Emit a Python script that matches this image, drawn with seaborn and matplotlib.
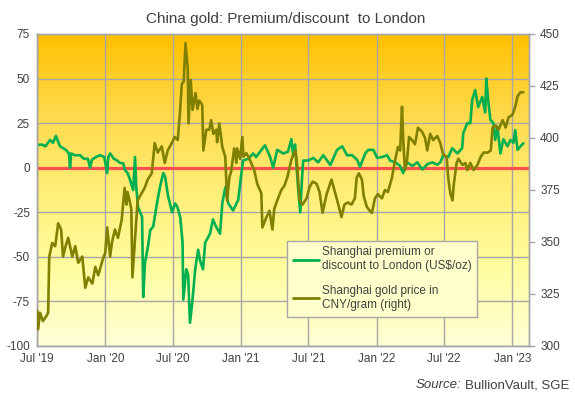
import numpy as np
import pandas as pd
import matplotlib
matplotlib.use("Agg")
import matplotlib.pyplot as plt
from matplotlib.colors import LinearSegmentedColormap
from matplotlib.lines import Line2D
import seaborn as sns

# ── data ──────────────────────────────────────────────────────────────────────

premium_dates = [
    "2019-07-01", "2019-07-14", "2019-07-24", "2019-08-05", "2019-08-13", "2019-08-21",
    "2019-09-01", "2019-09-09", "2019-09-17", "2019-09-25", "2019-09-28", "2019-10-01",
    "2019-10-11", "2019-10-25", "2019-11-04", "2019-11-15", "2019-11-21", "2019-11-26",
    "2019-12-07", "2019-12-18", "2019-12-29", "2020-01-06", "2020-01-09", "2020-01-14",
    "2020-01-24", "2020-02-02", "2020-02-10", "2020-02-18", "2020-02-23", "2020-03-01",
    "2020-03-08", "2020-03-16", "2020-03-21", "2020-03-24", "2020-03-29", "2020-04-09",
    "2020-04-12", "2020-04-17", "2020-04-25", "2020-05-01", "2020-05-09", "2020-05-19",
    "2020-05-27", "2020-06-05", "2020-06-10", "2020-06-18", "2020-06-29", "2020-07-07",
    "2020-07-13", "2020-07-21", "2020-07-27", "2020-07-29", "2020-08-06", "2020-08-11",
    "2020-08-16", "2020-08-22", "2020-08-30", "2020-09-07", "2020-09-12", "2020-09-20",
    "2020-09-26", "2020-10-09", "2020-10-17", "2020-10-25", "2020-11-05", "2020-11-11",
    "2020-11-19", "2020-11-27", "2020-12-10", "2020-12-24", "2020-12-29", "2021-01-06",
    "2021-01-20", "2021-02-02", "2021-02-10", "2021-02-21", "2021-03-06", "2021-03-20",
    "2021-03-28", "2021-04-08", "2021-04-16", "2021-04-24", "2021-05-07", "2021-05-16",
    "2021-05-21", "2021-05-26", "2021-06-03", "2021-06-09", "2021-06-14", "2021-06-17",
    "2021-06-30", "2021-07-14", "2021-07-27", "2021-08-10", "2021-08-29", "2021-09-16",
    "2021-09-30", "2021-10-13", "2021-10-27", "2021-11-09", "2021-11-17", "2021-12-01",
    "2021-12-09", "2021-12-23", "2022-01-02", "2022-01-16", "2022-01-29", "2022-02-06",
    "2022-02-20", "2022-03-05", "2022-03-13", "2022-03-24", "2022-04-07", "2022-04-20",
    "2022-05-04", "2022-05-17", "2022-05-31", "2022-06-13", "2022-06-21", "2022-06-29",
    "2022-07-13", "2022-07-23", "2022-08-06", "2022-08-19", "2022-08-22", "2022-09-02",
    "2022-09-10", "2022-09-15", "2022-09-23", "2022-10-01", "2022-10-12", "2022-10-20",
    "2022-10-23", "2022-10-28", "2022-11-03", "2022-11-11", "2022-11-16", "2022-11-22",
    "2022-11-30", "2022-12-08", "2022-12-19", "2022-12-27", "2023-01-04", "2023-01-09",
    "2023-01-15", "2023-01-23", "2023-01-31",
]
premium_usd = [
    12.7, 13, 12, 15.6, 14, 17.8,
    12, 11, 10, 8, 0, 8,
    7, 7, 5, 5, 0, 4.5,
    6, 7, 6, -3, 6, 8,
    5, 4, 2.6, 2.5, -1.3, -3,
    -7, -12.5, 6, -10, -22, -27.6,
    -72.5, -53, -44, -35, -33, -20,
    -11, -3, -5, -16, -25, -20,
    -22, -28, -42, -74, -57, -60,
    -87, -76, -57, -46, -52, -57,
    -42, -37, -29, -33, -37, -20,
    -11, -20, -24, -18, -9, 4,
    5, 8, 6, 9, 12.6, 6,
    0, 10, 9, 8, 9, 16,
    7, 13, -11, -25, -5, 4,
    4, 5.5, 3, 7, 1.5, 10,
    12, 7, 7, 4.4, 0.5, 8,
    10, 10, 5.5, 6, 7, 4,
    3, 1, -3, 3, 1, 3,
    -1, 2, 3, 1.7, 3, 7,
    6, 11, 8, 11, 19.5, 25,
    25, 38, 43.6, 34, 39.7, 31,
    50, 38, 27, 25, 15.6, 23,
    8, 16, 12, 15.6, 14, 21,
    10, 12, 13.7,
]

price_dates = [
    "2019-07-01", "2019-07-04", "2019-07-09", "2019-07-17", "2019-07-25", "2019-07-31",
    "2019-08-03", "2019-08-11", "2019-08-19", "2019-08-27", "2019-09-04", "2019-09-09",
    "2019-09-16", "2019-09-23", "2019-10-04", "2019-10-12", "2019-10-20", "2019-10-31",
    "2019-11-08", "2019-11-16", "2019-11-27", "2019-12-05", "2019-12-13", "2019-12-24",
    "2020-01-01", "2020-01-06", "2020-01-14", "2020-01-19", "2020-01-27", "2020-02-04",
    "2020-02-14", "2020-02-22", "2020-02-27", "2020-03-01", "2020-03-11", "2020-03-14",
    "2020-03-25", "2020-03-28", "2020-04-08", "2020-04-16", "2020-04-24", "2020-05-05",
    "2020-05-13", "2020-05-21", "2020-06-01", "2020-06-09", "2020-06-17", "2020-06-28",
    "2020-07-06", "2020-07-14", "2020-07-20", "2020-07-25", "2020-07-30", "2020-08-04",
    "2020-08-10", "2020-08-12", "2020-08-18", "2020-08-23", "2020-08-31", "2020-09-05",
    "2020-09-10", "2020-09-18", "2020-09-21", "2020-09-29", "2020-10-07", "2020-10-12",
    "2020-10-18", "2020-10-26", "2020-10-28", "2020-11-03", "2020-11-11", "2020-11-19",
    "2020-11-24", "2020-11-30", "2020-12-05", "2020-12-08", "2020-12-13", "2020-12-19",
    "2020-12-21", "2020-12-29", "2021-01-04", "2021-01-07", "2021-01-15", "2021-01-23",
    "2021-02-05", "2021-02-13", "2021-02-24", "2021-02-27", "2021-03-10", "2021-03-18",
    "2021-03-26", "2021-03-31", "2021-04-08", "2021-04-19", "2021-04-27", "2021-05-05",
    "2021-05-16", "2021-05-19", "2021-05-27", "2021-06-01", "2021-06-07", "2021-06-15",
    "2021-06-26", "2021-07-04", "2021-07-12", "2021-07-23", "2021-07-31", "2021-08-08",
    "2021-08-19", "2021-09-01", "2021-09-15", "2021-09-28", "2021-10-06", "2021-10-15",
    "2021-10-25", "2021-11-03", "2021-11-08", "2021-11-14", "2021-11-22", "2021-11-27",
    "2021-12-05", "2021-12-13", "2021-12-19", "2021-12-27", "2022-01-04", "2022-01-15",
    "2022-01-23", "2022-01-31", "2022-02-11", "2022-02-19", "2022-02-27", "2022-03-05",
    "2022-03-10", "2022-03-13", "2022-03-18", "2022-03-24", "2022-03-29", "2022-04-06",
    "2022-04-14", "2022-04-22", "2022-05-03", "2022-05-11", "2022-05-17", "2022-05-25",
    "2022-06-02", "2022-06-13", "2022-06-21", "2022-06-29", "2022-07-08", "2022-07-13",
    "2022-07-18", "2022-07-24", "2022-07-27", "2022-08-04", "2022-08-09", "2022-08-20",
    "2022-08-28", "2022-09-02", "2022-09-10", "2022-09-19", "2022-09-29", "2022-10-08",
    "2022-10-16", "2022-10-27", "2022-11-04", "2022-11-09", "2022-11-17", "2022-11-25",
    "2022-12-06", "2022-12-14", "2022-12-22", "2023-01-01", "2023-01-09", "2023-01-15",
    "2023-01-23", "2023-01-31",
]
price_cny = [
    317, 308, 316, 312, 314, 316,
    343, 349.5, 348, 359, 356, 343,
    348, 352, 343, 348, 340, 343,
    328, 333, 330, 338, 334, 341,
    345, 357, 343, 350, 356, 352,
    360.6, 376, 368, 374, 366, 333,
    362, 370, 373.5, 376, 380, 383,
    397.6, 393, 396, 388, 394, 397.6,
    400.5, 399, 412, 426, 427, 445.7,
    433, 407, 428, 413.5, 421.6, 414,
    418, 416, 394, 404, 404, 408.6,
    402, 404, 398, 407, 395.7, 391,
    370, 381, 384, 388, 395, 388,
    395, 390, 400.5, 391, 392.7, 390,
    384.6, 378, 373.5, 357, 362, 365,
    356, 366, 370, 375, 377, 381,
    389.4, 391, 394, 386, 370, 368,
    371, 376.4, 379, 378, 374, 364,
    373, 380, 371, 362, 368, 369,
    368, 371, 381, 383, 380, 372,
    367, 365, 364, 371, 373, 371,
    375, 374, 381, 389, 395.7, 394,
    415, 400, 384.6, 390, 400.5, 399,
    397, 405, 403, 400, 394, 402,
    399, 401, 397.6, 392, 391, 380,
    373.5, 370, 377, 388, 390, 387,
    388, 384.6, 388, 384.6, 387, 391,
    393, 393, 394, 405, 406, 404,
    408.6, 405, 410, 411, 415, 420,
    422, 422,
]

tick_dates = ["2019-07-01", "2020-01-01", "2020-07-01", "2021-01-01",
              "2021-07-01", "2022-01-01", "2022-07-01", "2023-01-01"]
tick_labels = ["Jul '19", "Jan '20", "Jul '20", "Jan '21",
               "Jul '21", "Jan '22", "Jul '22", "Jan '23"]
left_ticks = [75, 50, 25, 0, -25, -50, -75, -100]
right_ticks = [450, 425, 400, 375, 350, 325, 300]

premium = pd.DataFrame({"date": pd.to_datetime(premium_dates), "value": premium_usd})
price = pd.DataFrame({"date": pd.to_datetime(price_dates), "value": price_cny})

GREEN = "#00B050"
OLIVE = "#808000"
GRID = "#A6A6A6"
TEXT = "#404040"

# ── style ─────────────────────────────────────────────────────────────────────

sns.set_style("white")
plt.rcParams["font.family"] = ["Liberation Sans", "DejaVu Sans"]
plt.rcParams["axes.unicode_minus"] = False

fig = plt.figure(figsize=(5.75, 3.98), dpi=100)
ax = fig.add_axes([37 / 575, 1 - 346 / 398, 492 / 575, 312 / 398])
ax2 = ax.twinx()

# gradient background (below the grid)
bg = LinearSegmentedColormap.from_list(
    "bg", ["#FFFFD6", "#FFFDA0", "#FFEE78", "#FFD94A", "#FFC000"])
grad = np.linspace(0, 1, 256).reshape(-1, 1)
ax.imshow(grad, cmap=bg, origin="lower", aspect="auto",
          extent=[0, 1, 0, 1], transform=ax.transAxes, zorder=0)

xmin, xmax = pd.Timestamp("2019-07-01"), pd.Timestamp("2023-02-15")

# ── lines ─────────────────────────────────────────────────────────────────────

ax.axhline(0, color="#FF5050", lw=2.3, zorder=2)
sns.lineplot(data=premium, x="date", y="value", ax=ax, color=GREEN,
             lw=1.9, zorder=3, legend=False)
sns.lineplot(data=price, x="date", y="value", ax=ax2, color=OLIVE,
             lw=1.9, zorder=3, legend=False)

ax.set_xlim(xmin, xmax)
ax.set_ylim(-100, 75)
ax2.set_ylim(300, 450)

ax.set_xticks(pd.to_datetime(tick_dates))
ax.set_xticklabels(tick_labels)
ax.set_yticks(left_ticks)
ax.set_yticklabels([str(t) for t in left_ticks])
ax2.set_yticks(right_ticks)
ax2.set_yticklabels([str(t) for t in right_ticks])

# grid sits above the gradient (zorder 0) but below the red zero line
ax.set_axisbelow(True)
ax.grid(True, color=GRID, lw=1)
ax2.grid(False)
ax2.patch.set_visible(False)

ax.set_xlabel("")
ax.set_ylabel("")
ax2.set_xlabel("")
ax2.set_ylabel("")

for a in (ax, ax2):
    for s in a.spines.values():
        s.set_color(GRID)
        s.set_linewidth(1)

ax.tick_params(axis="both", length=0, labelsize=8.5, labelcolor=TEXT, pad=5)
ax2.tick_params(axis="y", length=4, width=1, color=GRID, labelsize=8.5,
                labelcolor=TEXT, pad=4)

# ── legend, title, source ─────────────────────────────────────────────────────

handles = [Line2D([], [], color=GREEN, lw=2),
           Line2D([], [], color=OLIVE, lw=2)]
labels = ["Shanghai premium or\ndiscount to London (US$/oz)",
          "Shanghai gold price in\nCNY/gram (right)"]
leg = ax2.legend(handles, labels, loc="upper left", bbox_to_anchor=(0.496, 0.357),
                 fontsize=8.5, frameon=True, fancybox=False, handlelength=2.2,
                 handletextpad=0.25, borderpad=0.5, labelspacing=1.1,
                 labelcolor=TEXT)
leg.get_frame().set_facecolor("#FFFFCC")
leg.get_frame().set_edgecolor(GRID)
leg.get_frame().set_alpha(1)
leg.set_zorder(5)

fig.text(0.497, 0.953, "China gold: Premium/discount  to London", ha="center",
         va="center", fontsize=11, color=TEXT)
fig.text(0.803, 0.032, "Source:", ha="right", va="center", fontsize=9.5,
         color=TEXT, style="italic")
fig.text(0.808, 0.032, "BullionVault, SGE", ha="left", va="center",
         fontsize=9.5, color=TEXT)

fig.savefig("out.png", dpi=100)
